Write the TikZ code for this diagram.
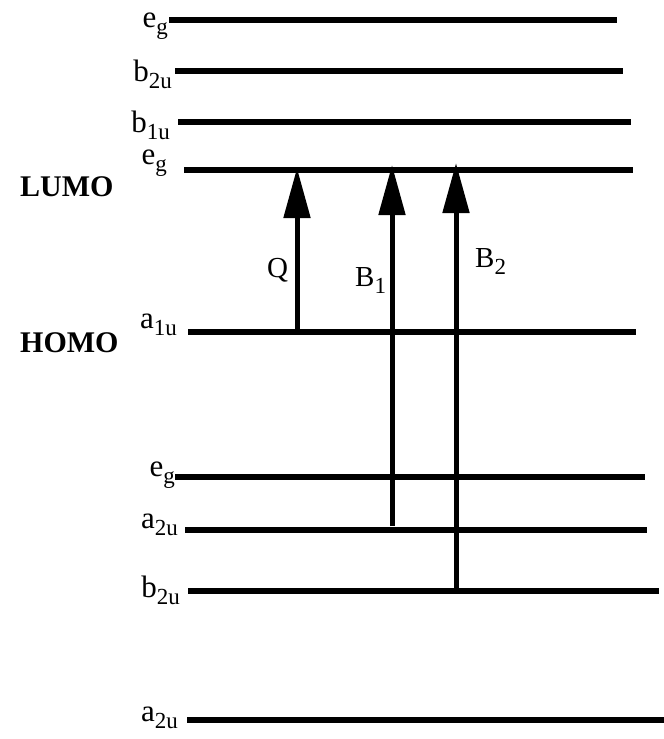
\documentclass[tikz,border=0pt]{standalone}
\usepackage{fontspec}
\setmainfont{Liberation Serif}
\usetikzlibrary{arrows.meta}

% orbital symbol with lowered subscript
\newcommand{\orb}[2]{#1\raisebox{-0.25em}{\fontsize{23}{23}\selectfont #2}}

\tikzset{
  level/.style={line width=5.5pt},
  trans/.style={line width=5pt,-{Triangle[length=50pt,width=26pt]}},
  orblabel/.style={anchor=base east,inner sep=0pt,font=\fontsize{31}{31}\selectfont},
  translabel/.style={anchor=base west,inner sep=0pt,font=\fontsize{29}{29}\selectfont},
  frontier/.style={anchor=base west,inner sep=0pt,font=\fontsize{30}{30}\selectfont\bfseries}
}

\begin{document}
\begin{tikzpicture}[x=1pt,y=-1pt]
  \useasboundingbox (0,0) rectangle (664,739);

  % unoccupied levels
  \draw[level] (169,20) coordinate (eg3-l) -- (617,20) coordinate (eg3-r);
  \draw[level] (175,71) coordinate (bu2-l) -- (623,71) coordinate (bu2-r);
  \draw[level] (178,122) coordinate (bu1-l) -- (631,122) coordinate (bu1-r);
  \draw[level] (184,170) coordinate (lumo-l) -- (633,170) coordinate (lumo-r);

  % occupied levels
  \draw[level] (188,332) coordinate (homo-l) -- (636,332) coordinate (homo-r);
  \draw[level] (175,477) coordinate (eg1-l) -- (645,477) coordinate (eg1-r);
  \draw[level] (185,530) coordinate (au2-l) -- (647,530) coordinate (au2-r);
  \draw[level] (188,591) coordinate (bu0-l) -- (659,591) coordinate (bu0-r);
  \draw[level] (187,720) coordinate (au0-l) -- (664,720) coordinate (au0-r);

  \node[orblabel] (eg3) at (168,27) {\orb{e}{g}};
  \node[orblabel] (bu2) at (172,81) {\orb{b}{2u}};
  \node[orblabel] (bu1) at (170,132) {\orb{b}{1u}};
  \node[orblabel] (lumo) at (167,164) {\orb{e}{g}};
  \node[orblabel] (homo) at (177,328) {\orb{a}{1u}};
  \node[orblabel] (eg1) at (175,476) {\orb{e}{g}};
  \node[orblabel] (au2) at (178,528) {\orb{a}{2u}};
  \node[orblabel] (bu0) at (180,597) {\orb{b}{2u}};
  \node[orblabel] (au0) at (178,721) {\orb{a}{2u}};

  \node[frontier] (lumo-txt) at (20,196) {LUMO};
  \node[frontier] (homo-txt) at (20,352) {HOMO};

  % transitions
  \coordinate (q-bot) at (297,332);
  \coordinate (q-top) at (297,168);
  \coordinate (b1-bot) at (392,526);
  \coordinate (b1-top) at (392,165);
  \coordinate (b2-bot) at (456,588);
  \coordinate (b2-top) at (456,163);
  \draw[trans] (q-bot) -- (q-top);
  \draw[trans] (b1-bot) -- (b1-top);
  \draw[trans] (b2-bot) -- (b2-top);

  \node[translabel] (q) at (267,277) {Q};
  \node[translabel] (b1) at (355,286) {\orb{B}{1}};
  \node[translabel] (b2) at (475,267) {\orb{B}{2}};
\end{tikzpicture}
\end{document}
